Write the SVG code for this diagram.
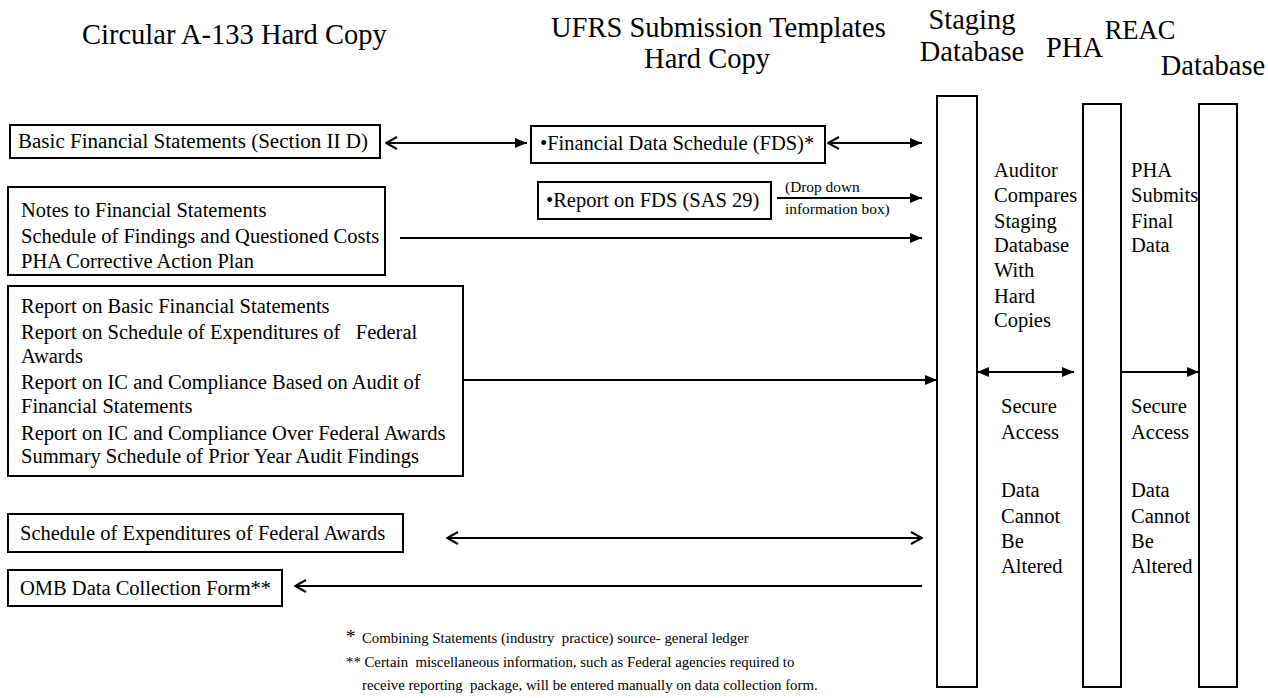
<svg xmlns="http://www.w3.org/2000/svg" width="1268" height="698" viewBox="0 0 1268 698">
<style>
text{font-family:"Liberation Serif","Times New Roman",serif;fill:#000;white-space:pre}
.t{font-size:20.5px}
.h{font-size:28.5px}
.s{font-size:15.4px}
.f{font-size:14.8px}
rect{fill:#fff;stroke:#000;stroke-width:2}
line{stroke:#000;stroke-width:2}
</style>
<defs>
<marker id="fa" markerUnits="userSpaceOnUse" markerWidth="12" markerHeight="10" refX="12" refY="5" orient="auto-start-reverse"><path d="M0,0 L12,5 L0,10 z" fill="#000"/></marker>
<marker id="oa" markerUnits="userSpaceOnUse" markerWidth="13" markerHeight="14" refX="12" refY="7" orient="auto-start-reverse"><path d="M1,1 L12,7 L1,13" fill="none" stroke="#000" stroke-width="2"/></marker>
</defs>
<g id="titles">
<text class="h" x="82" y="44">Circular A-133 Hard Copy</text>
<text class="h" x="551" y="37">UFRS Submission Templates</text>
<text class="h" x="707" y="68" text-anchor="middle">Hard Copy</text>
<text class="h" x="972" y="29" text-anchor="middle">Staging</text>
<text class="h" x="972" y="61" text-anchor="middle">Database</text>
<text class="h" x="1046" y="57">PHA</text>
<text x="1140" y="39" text-anchor="middle" style="font-size:26.5px">REAC</text>
<text class="h" x="1213" y="75" text-anchor="middle">Database</text>
</g>
<g id="staging"><rect x="937" y="96" width="40" height="591"/>
<text class="t" x="994" y="177">Auditor</text><text class="t" x="994" y="202">Compares</text><text class="t" x="994" y="228">Staging</text><text class="t" x="994" y="252">Database</text><text class="t" x="994" y="277">With</text><text class="t" x="994" y="303">Hard</text><text class="t" x="994" y="327">Copies</text>
<text class="t" x="1001" y="413">Secure</text><text class="t" x="1001" y="439">Access</text>
<text class="t" x="1001" y="497">Data</text><text class="t" x="1001" y="523">Cannot</text><text class="t" x="1001" y="548">Be</text><text class="t" x="1001" y="573">Altered</text>
</g>
<g id="pha"><rect x="1083" y="104" width="38" height="583"/>
<text class="t" x="1131" y="177">PHA</text><text class="t" x="1131" y="202">Submits</text><text class="t" x="1131" y="228">Final</text><text class="t" x="1131" y="252">Data</text>
<text class="t" x="1131" y="413">Secure</text><text class="t" x="1131" y="439">Access</text>
<text class="t" x="1131" y="497">Data</text><text class="t" x="1131" y="523">Cannot</text><text class="t" x="1131" y="548">Be</text><text class="t" x="1131" y="573">Altered</text>
</g>
<g id="reac"><rect x="1199" y="104" width="38" height="583"/></g>
<g id="basic"><rect x="10" y="125" width="370" height="33"/><text class="t" x="18" y="148" textLength="350" lengthAdjust="spacingAndGlyphs">Basic Financial Statements (Section II D)</text></g>
<g id="fds"><rect x="531" y="126" width="294" height="37"/><text class="t" x="540" y="150">•Financial Data Schedule (FDS)*</text></g>
<g id="rfds"><rect x="538" y="182" width="233" height="37"/><text class="t" x="546" y="207">•Report on FDS (SAS 29)</text></g>
<g id="notes"><rect x="8" y="187" width="377" height="88"/>
<text class="t" x="21" y="217">Notes to Financial Statements</text><text class="t" x="21" y="243">Schedule of Findings and Questioned Costs</text><text class="t" x="21" y="268">PHA Corrective Action Plan</text></g>
<g id="reports"><rect x="8" y="286" width="455" height="190"/>
<text class="t" x="21" y="313">Report on Basic Financial Statements</text>
<text class="t" x="21" y="339">Report on Schedule of Expenditures of   Federal</text>
<text class="t" x="21" y="363">Awards</text>
<text class="t" x="21" y="389">Report on IC and Compliance Based on Audit of</text>
<text class="t" x="21" y="413">Financial Statements</text>
<text class="t" x="21" y="440">Report on IC and Compliance Over Federal Awards</text>
<text class="t" x="21" y="463">Summary Schedule of Prior Year Audit Findings</text></g>
<g id="sefa"><rect x="8" y="514" width="395" height="38"/><text class="t" x="20" y="540">Schedule of Expenditures of Federal Awards</text></g>
<g id="omb"><rect x="8" y="570" width="274" height="36"/><text class="t" x="20" y="595">OMB Data Collection Form**</text></g>
<g id="connectors">
<line x1="386" y1="143" x2="527" y2="143" marker-start="url(#oa)" marker-end="url(#fa)"/>
<line x1="828" y1="143" x2="922" y2="143" marker-start="url(#oa)" marker-end="url(#fa)"/>
<line x1="777" y1="198" x2="922" y2="198" marker-end="url(#fa)"/>
<line x1="400" y1="238" x2="922" y2="238" marker-end="url(#fa)"/>
<line x1="463" y1="380" x2="937" y2="380" marker-end="url(#fa)"/>
<line x1="977" y1="372" x2="1074" y2="372" marker-start="url(#fa)" marker-end="url(#fa)"/>
<line x1="1121" y1="372" x2="1199" y2="372" marker-end="url(#fa)"/>
<line x1="447" y1="538" x2="922" y2="538" marker-start="url(#oa)" marker-end="url(#oa)"/>
<line x1="922" y1="586" x2="295" y2="586" marker-end="url(#oa)"/>
<text class="s" x="785" y="192">(Drop down</text>
<text class="s" x="785" y="214">information box)</text>
</g>
<g id="notes-foot">
<text x="346" y="643" style="font-size:19px">*</text>
<text class="f" x="362" y="643">Combining Statements (industry  practice) source- general ledger</text>
<text class="f" x="346" y="667">** Certain  miscellaneous information, such as Federal agencies required to</text>
<text class="f" x="362" y="690">receive reporting  package, will be entered manually on data collection form.</text>
</g>
</svg>
